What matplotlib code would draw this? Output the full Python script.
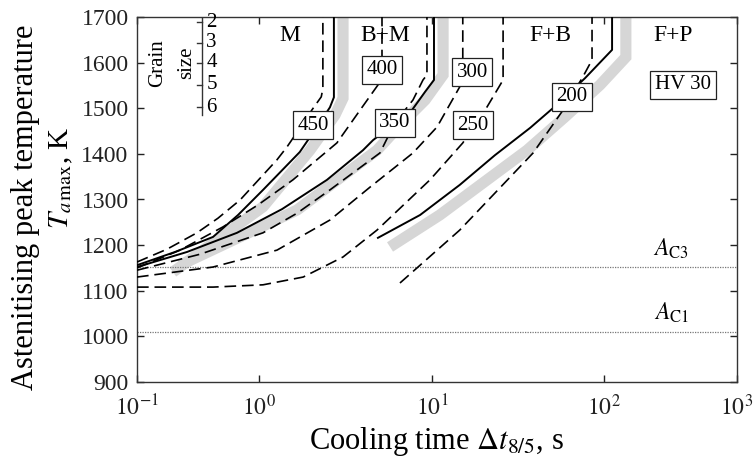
import numpy as np
import matplotlib
matplotlib.use('Agg')
import matplotlib.pyplot as plt

plt.rcParams['font.family'] = 'Liberation Serif'
plt.rcParams['mathtext.fontset'] = 'stix'

# iso-hardness lines, HV 30 (dashed)
t_450 = [0.1, 0.176, 0.31, 0.461, 0.70, 1.27, 1.45, 1.72, 2.02, 2.29, 2.34, 2.34]
T_450 = [1163, 1191, 1227, 1259, 1299, 1387, 1415, 1456, 1496, 1525, 1543, 1700]
t_400 = [0.1, 0.225, 0.507, 0.98, 1.57, 2.82, 3.84, 4.87, 5.14, 5.14]
T_400 = [1150, 1189, 1240, 1288, 1343, 1424, 1496, 1551, 1575, 1700]
t_350 = [0.1, 0.328, 1.055, 1.66, 2.57, 5.0, 6.1, 7.76, 8.87, 9.35, 9.35]
T_350 = [1145, 1180, 1227, 1270, 1321, 1402, 1468, 1518, 1562, 1573, 1700]
t_300 = [0.1, 0.42, 1.27, 2.57, 4.38, 7.76, 10.7, 14.5, 15.1, 15.1]
T_300 = [1130, 1152, 1189, 1255, 1327, 1402, 1459, 1547, 1565, 1700]
t_250 = [0.1, 0.42, 1.055, 1.8, 3.06, 4.81, 9.73, 15.1, 20.9, 25.9, 25.9]
T_250 = [1108, 1108, 1113, 1130, 1174, 1233, 1343, 1424, 1503, 1562, 1700]
t_200 = [6.53, 14.5, 38.7, 57.8, 75.4, 85.2, 85.2]
T_200 = [1117, 1233, 1402, 1496, 1569, 1606, 1700]

# phase boundaries (solid)
t_m = [0.1, 0.205, 0.42, 0.673, 1.055, 1.72, 2.2, 2.57, 2.71, 2.71]
T_m = [1156, 1185, 1218, 1266, 1321, 1404, 1463, 1502, 1524, 1700]
t_bm = [0.1, 0.257, 0.66, 1.36, 2.47, 3.99, 4.56, 6.11, 7.66, 9.12, 10.27, 10.27]
T_bm = [1152, 1185, 1227, 1279, 1343, 1408, 1430, 1468, 1496, 1536, 1562, 1700]
t_fb = [4.87, 8.53, 14.5, 23.2, 37.2, 50.4, 77.6, 115, 115]
T_fb = [1216, 1266, 1332, 1397, 1457, 1500, 1566, 1628, 1700]

# scatter bands (grey)
tb_m = [0.197, 1.055, 1.97, 2.75, 3.06, 3.06]
Tb_m = [1141, 1284, 1408, 1485, 1522, 1700]
tb_bm = [0.225, 1.66, 4.81, 6.53, 9.12, 11.6, 11.6]
Tb_bm = [1156, 1277, 1408, 1463, 1518, 1573, 1700]
tb_fb = [5.72, 11.1, 35.7, 59.3, 94.8, 146, 146]
Tb_fb = [1196, 1266, 1408, 1481, 1551, 1612, 1700]

AC3 = 1153
AC1 = 1010

# hardness labels: (text, t, T)
hv_labels = [('450', 2.05, 1463), ('400', 5.14, 1584), ('350', 6.11, 1468),
             ('300', 17.1, 1579), ('250', 17.3, 1463), ('200', 65.2, 1525)]
regions = [('M', 1.51), ('B+M', 5.35), ('F+B', 48.5), ('F+P', 330)]
grain_sizes = ['2', '3', '4', '5', '6']
xticks = [0.1, 1, 10, 100, 1000]
xticklabels = ['$10^{-1}$', '$10^{0}$', '$10^{1}$', '$10^{2}$', '$10^{3}$']

# the decades in the original drawing are not equally wide
LOG_ANCH = [-1, 0, 1, 2, 3]
POS_ANCH = [0, 122, 295, 467, 600]


def fwd(x):
    x = np.clip(np.asarray(x, dtype=float), 1e-9, None)
    return np.interp(np.log10(x), LOG_ANCH, POS_ANCH)


def inv(y):
    return 10 ** np.interp(np.asarray(y, dtype=float), POS_ANCH, LOG_ANCH)


fig = plt.figure(figsize=(7.55, 4.61), dpi=100)
ax = fig.add_axes([137 / 755, 79 / 461, 600 / 755, 365 / 461])
ax.set_xscale('function', functions=(fwd, inv))
ax.set_xlim(0.1, 1000)
ax.set_ylim(900, 1700)

band_kw = dict(color='#d6d6d6', lw=8, solid_capstyle='butt', solid_joinstyle='miter', zorder=1)
ax.plot(tb_m, Tb_m, **band_kw)
ax.plot(tb_bm, Tb_bm, **band_kw)
ax.plot(tb_fb, Tb_fb, **band_kw)

dash_kw = dict(color='black', lw=1.2, dashes=(7, 3.5), zorder=3)
for t, T in [(t_450, T_450), (t_400, T_400), (t_350, T_350),
             (t_300, T_300), (t_250, T_250), (t_200, T_200)]:
    ax.plot(t, T, **dash_kw)

for t, T in [(t_m, T_m), (t_bm, T_bm), (t_fb, T_fb)]:
    ax.plot(t, T, color='black', lw=1.4, zorder=3)

ax.axhline(AC3, color='#777777', lw=0.9, ls=(0, (1, 1)), zorder=2)
ax.axhline(AC1, color='#777777', lw=0.9, ls=(0, (1, 1)), zorder=2)
ax.text(320, 1191, r'$A_{\mathrm{C3}}$', fontsize=17, ha='center', va='center')
ax.text(320, 1051, r'$A_{\mathrm{C1}}$', fontsize=17, ha='center', va='center')

box = dict(boxstyle='square,pad=0.22', fc='white', ec='#222222', lw=0.9)
for s, t, T in hv_labels:
    ax.text(t, T, s, fontsize=15, ha='center', va='center', bbox=box, zorder=5)
ax.text(393, 1551, 'HV 30', fontsize=15, ha='center', va='center', bbox=box, zorder=5)

for s, t in regions:
    ax.text(t, 1660, s, fontsize=17, ha='center', va='center')

# grain size scale
gx = 65 / 600
ax.plot([gx, gx], [1.0, 0.732], transform=ax.transAxes, color='#333333', lw=1)
gy = [0.986, 0.929, 0.874, 0.814, 0.753]
for s, y in zip(grain_sizes, gy):
    ax.plot([gx - 0.009, gx], [y, y], transform=ax.transAxes, color='#333333', lw=1)
    ax.text(gx + 0.007, y, s, transform=ax.transAxes, fontsize=15, ha='left', va='center')
ax.text(0.035, 0.874, 'Grain', transform=ax.transAxes, rotation=90, fontsize=15,
        ha='center', va='center')
ax.text(0.083, 0.874, 'size', transform=ax.transAxes, rotation=90, fontsize=15,
        ha='center', va='center')

ax.set_xticks(xticks)
ax.set_xticklabels(xticklabels)
ax.xaxis.set_minor_locator(matplotlib.ticker.NullLocator())
ax.set_yticks(np.arange(900, 1701, 100))
ax.tick_params(direction='in', length=5, width=1, top=True, right=True,
               labelsize=17, colors='#222222', pad=6)
ax.tick_params(axis='x', pad=9)
for sp in ax.spines.values():
    sp.set_color('#333333')
    sp.set_linewidth(1)

fig.text(436 / 755, 1 - 441 / 461, r'Cooling time $\Delta t_{8/5}$, s', fontsize=22,
         ha='center', va='center')
fig.text(26 / 755, 1 - 207 / 461, 'Astenitising peak temperature', rotation=90,
         fontsize=22, ha='center', va='center')
fig.text(61 / 755, 1 - 178 / 461, r'$T_{a\,\mathrm{max}}$, K', rotation=90,
         fontsize=21, ha='center', va='center')

fig.savefig('out.png', dpi=100)
